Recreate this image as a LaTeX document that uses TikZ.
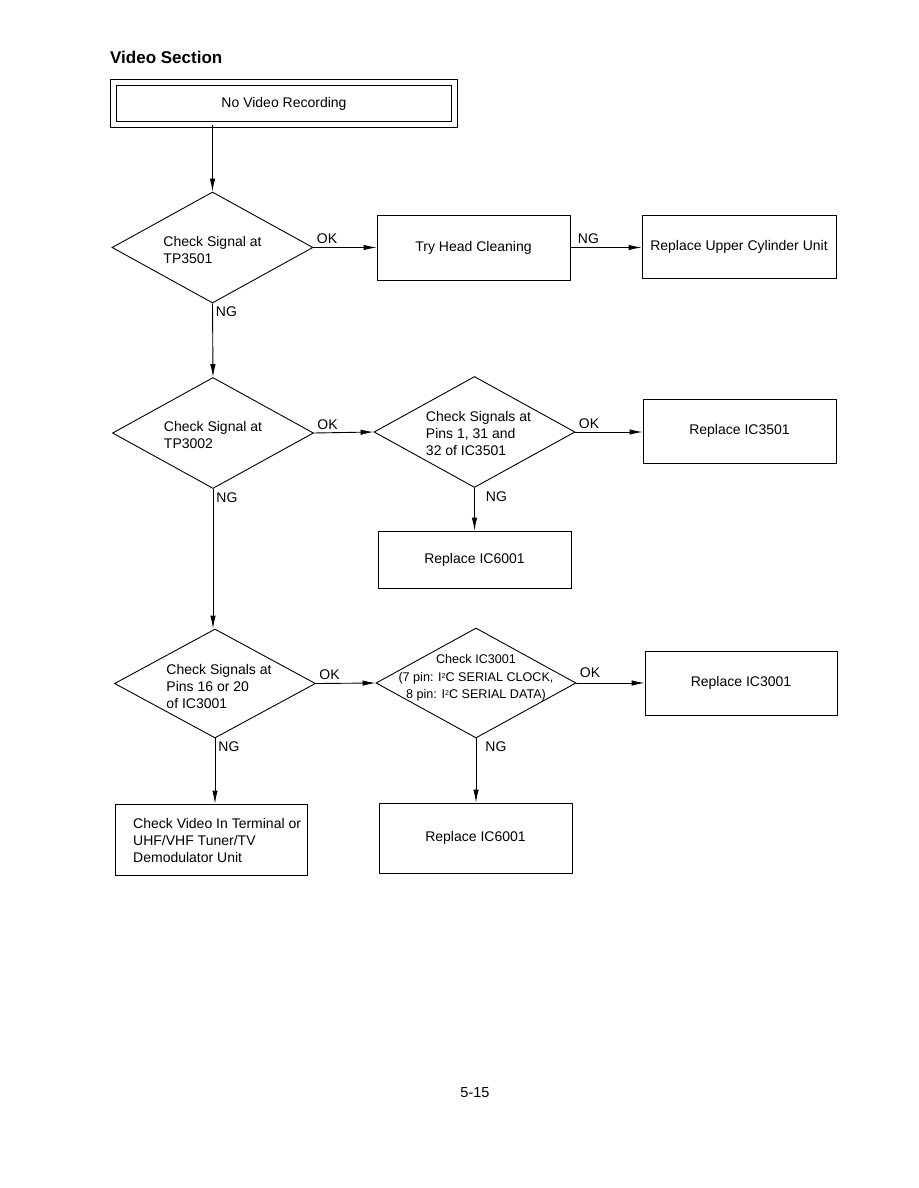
\documentclass[tikz,border=0pt]{standalone}
\usepackage{fontspec}
\setmainfont{Liberation Sans}
\usetikzlibrary{shapes.geometric,arrows.meta}
\newcommand{\iic}{I\raisebox{0.45ex}{\fontsize{7}{7}\selectfont 2}C}

\begin{document}
\begin{tikzpicture}[x=1pt, y=-1pt,
		every node/.style={font=\fontsize{14}{17}\selectfont},
		box/.style={draw, line width=0.9pt, inner sep=0pt},
		dia/.style={draw, diamond, line width=0.9pt, inner sep=0pt, minimum width=201pt, minimum height=111pt},
		txt/.style={align=left, inner sep=0pt},
		flow/.style={line width=0.9pt, -{Latex[length=13pt, width=5.5pt]}},
		lbl/.style={inner sep=3pt}]
		% Page
		\fill[white] (0,0) rectangle (918,1188);
		\useasboundingbox (0,0) rectangle (918,1188);
		\node[anchor=west, inner sep=0pt, font=\fontsize{17}{20}\selectfont\bfseries] (title) at (110,57) {Video Section};
		\node[font=\fontsize{14.5}{17}\selectfont] (page) at (475,1093) {5-15};
		
		% Start
		\node[box, double, double distance=5pt, minimum width=341pt, minimum height=42.5pt] (start) at (284,103.5) {No Video Recording};
		
		% First check
		\node[dia] (d1) at (212.5,247.5) {};
		\node[txt, yshift=-2pt] (d1t) at (d1) {Check Signal at\\TP3501};
		\node[box, minimum width=193pt, minimum height=65pt] (clean) at (473.5,247.5) {Try Head Cleaning};
		\node[box, minimum width=194pt, minimum height=63pt] (cyl) at (739,246.5) {Replace Upper Cylinder Unit};
		\draw[flow] (d1.north |- start.south) -- (d1.north);
		\draw[flow] (d1.east) -- node[lbl, at start, above right] {OK} (clean.west);
		\draw[flow] (clean.east) -- node[lbl, at start, above right, xshift=4pt] {NG} (clean.east -| cyl.west);
		
		% Second check
		\node[dia] (d2) at (213,433) {};
		\node[txt, yshift=-1.5pt] (d2t) at (d2) {Check Signal at\\TP3002};
		\node[dia] (d3) at (474.5,432) {};
		\node[txt, xshift=4pt, yshift=-1.5pt] (d3t) at (d3) {Check Signals at\\Pins 1, 31 and\\32 of IC3501};
		\node[box, minimum width=193pt, minimum height=64pt] (ic3501) at (739.5,431) {Replace IC3501};
		\node[box, minimum width=193pt, minimum height=57pt] (ic6001a) at (474.5,559.5) {Replace IC6001};
		\draw[flow] (d1.south) -- node[lbl, at start, below right] {NG} (d2.north);
		\draw[flow] (d2.east) -- node[lbl, at start, above right] {OK} (d3.west);
		\draw[flow] (d3.east) -- node[lbl, at start, above right] {OK} (d3.east -| ic3501.west);
		\draw[flow] (d3.south) -- node[lbl, at start, below right, xshift=8pt] {NG} (d3.south |- ic6001a.north);
		
		% Third check
		\node[dia, minimum height=109pt] (d4) at (215,683.5) {};
		\node[txt, xshift=4pt, yshift=-2.5pt] (d4t) at (d4) {Check Signals at\\Pins 16 or 20\\of IC3001};
		\node[dia, minimum width=200pt, minimum height=110pt] (d5) at (476,683) {};
		\node[align=center, inner sep=0pt, yshift=5pt, font=\fontsize{12.6}{17.5}\selectfont] (d5t) at (d5) {Check IC3001\\(7 pin: \iic{} SERIAL CLOCK,\\8 pin: \iic{} SERIAL DATA)};
		\node[box, minimum width=192pt, minimum height=64pt] (ic3001) at (741,683) {Replace IC3001};
		\node[box, minimum width=192pt, minimum height=71pt] (term) at (211,839.5) {};
		\node[txt, anchor=west] (termt) at (133,840) {Check Video In Terminal or\\UHF/VHF Tuner/TV\\Demodulator Unit};
		\node[box, minimum width=193pt, minimum height=70pt] (ic6001b) at (475.5,838) {Replace IC6001};
		\draw[flow] (d2.south) -- node[lbl, at start, below right] {NG} (d2.south |- d4.north);
		\draw[flow] (d4.east) -- node[lbl, at start, above right] {OK} (d5.west);
		\draw[flow] (d5.east) -- node[lbl, at start, above right, yshift=2pt] {OK} (d5.east -| ic3001.west);
		\draw[flow] (d4.south) -- node[lbl, at start, below right] {NG} (d4.south |- term.north);
		\draw[flow] (d5.south) -- node[lbl, at start, below right, xshift=6pt] {NG} (d5.south |- ic6001b.north);
	\end{tikzpicture}
\end{document}
